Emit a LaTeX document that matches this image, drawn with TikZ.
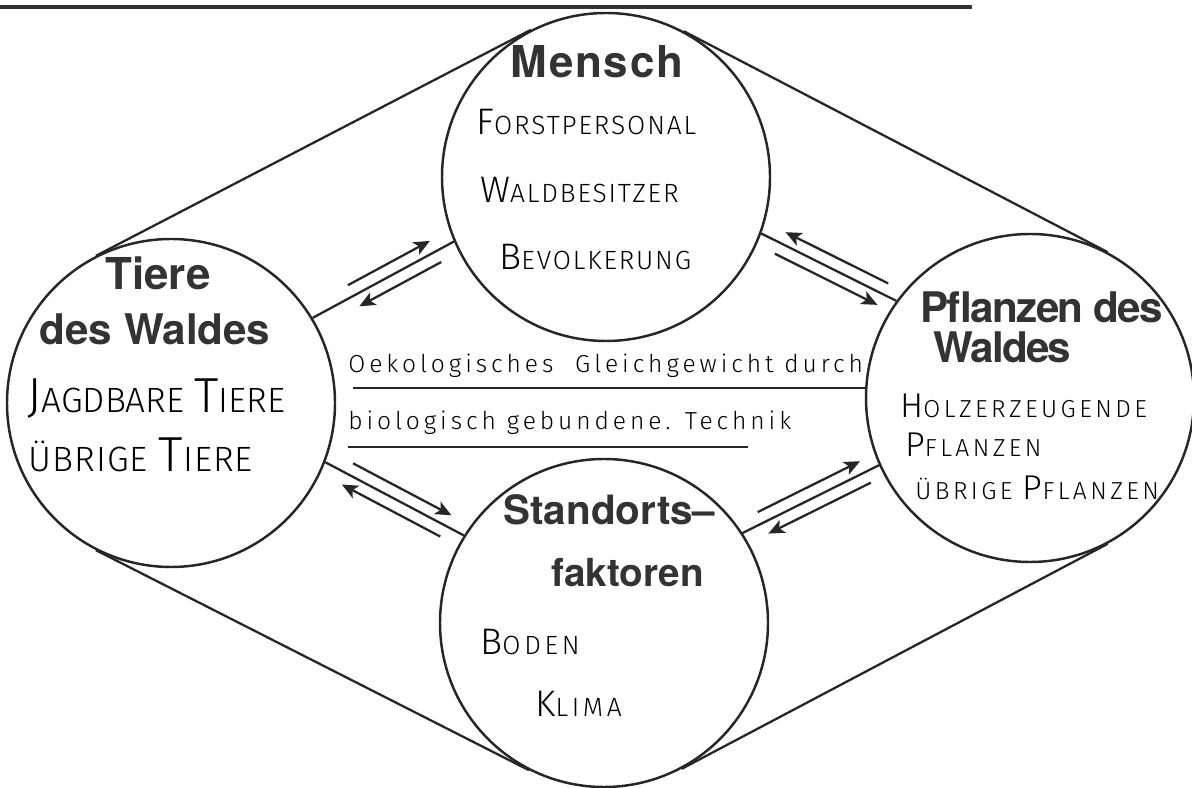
\documentclass[tikz,border=0pt]{standalone}
\usepackage{graphicx}
\usepackage{fontspec}
\setmainfont{TeX Gyre Heros}
\newfontfamily\handfont{Fira Sans Light}
\usetikzlibrary{arrows.meta,calc}

% bigger first letter of a hand lettered word
\newcommand{\Ini}[1]{\scalebox{1.4}{#1}}

\begin{document}
\begin{tikzpicture}[
    circ/.style={circle, draw=black!85, line width=1.4pt, minimum size=6.56cm, inner sep=0pt},
    link/.style={line width=1.3pt, black!85},
    arr/.style={-{Stealth[length=3.2mm, width=2.8mm, inset=0.8mm]}, line width=1.3pt, black!85},
    head/.style={font=\bfseries\fontsize{24}{26}\selectfont, text=black!80, inner sep=0pt},
    item/.style={font=\handfont\fontsize{15}{17}\selectfont\addfontfeature{LetterSpace=7}, text=black, inner sep=0pt, anchor=base west},
    hand/.style={font=\handfont\fontsize{14}{16}\selectfont\addfontfeature{LetterSpace=16}, text=black, inner sep=0pt, anchor=base west}
]
    \useasboundingbox (0,0) rectangle (23.84,15.76);

    % rule at the top
    \coordinate (rule-l) at (0,15.62);
    \coordinate (rule-r) at (19.44,15.62);
    \draw[line width=1.8pt, black!80] (rule-l) -- (rule-r);

    \node[circ] (M) at (12.12,12.22) {};
    \node[circ] (T) at (3.42, 7.70)  {};
    \node[circ] (P) at (20.60, 7.80) {};
    \node[circ] (S) at (12.08, 3.30) {};

    % outer frame, tangent to the circles
    \draw[link] (T.117.5) -- (M.117.5);
    \draw[link] (M.62.5)  -- (P.62.5);
    \draw[link] (P.-62.2) -- (S.-62.2);
    \draw[link] (S.-117)  -- (T.-117);

    % links and arrows
    \draw[link] (T.31) -- (M.203) coordinate[pos=0.29] (tm1) coordinate[pos=0.87] (tm2);
    \draw[arr] ($(tm1)!2.4mm!90:(tm2)$) -- ($(tm2)!2.4mm!-90:(tm1)$);
    \draw[arr] ($(tm2)!2.4mm!90:(tm1)$) -- ($(tm1)!2.4mm!-90:(tm2)$);

    \draw[link] (M.-20) -- (P.144) coordinate[pos=0.14] (mp1) coordinate[pos=0.90] (mp2);
    \draw[arr] ($(mp2)!2.4mm!-90:(mp1)$) -- ($(mp1)!2.4mm!90:(mp2)$);
    \draw[arr] ($(mp1)!2.4mm!-90:(mp2)$) -- ($(mp2)!2.4mm!90:(mp1)$);

    \draw[link] (S.33) -- (P.204) coordinate[pos=0.15] (sp1) coordinate[pos=0.90] (sp2);
    \draw[arr] ($(sp1)!2.4mm!90:(sp2)$) -- ($(sp2)!2.4mm!-90:(sp1)$);
    \draw[arr] ($(sp2)!2.4mm!90:(sp1)$) -- ($(sp1)!2.4mm!-90:(sp2)$);

    \draw[link] (T.-21) -- (S.148) coordinate[pos=0.16] (ts1) coordinate[pos=0.87] (ts2);
    \draw[arr] ($(ts1)!2.4mm!90:(ts2)$) -- ($(ts2)!2.4mm!-90:(ts1)$);
    \draw[arr] ($(ts2)!2.4mm!90:(ts1)$) -- ($(ts1)!2.4mm!-90:(ts2)$);

    % Mensch
    \node[head, anchor=base, font=\bfseries\fontsize{25}{27}\selectfont\addfontfeature{LetterSpace=4}] (m-head) at (11.94,14.20) {Mensch};
    \node[item] (m-forst) at (9.52,13.06) {\Ini{F}ORSTPERSONAL};
    \node[item] (m-wald)  at (9.60,11.70) {\Ini{W}ALDBESITZER};
    \node[item] (m-bev)   at (9.98,10.36) {\Ini{B}EVOLKERUNG};

    % Tiere
    \node[head, anchor=base, font=\bfseries\fontsize{25}{27}\selectfont] (t-head1) at (3.16,9.96) {Tiere};
    \node[head, anchor=base] (t-head2) at (3.10,8.86) {des Waldes};
    \node[item, font=\handfont\fontsize{20}{22}\selectfont] (t-jagd) at (0.54,7.50) {\Ini{J}AGDBARE \Ini{T}IERE};
    \node[item, font=\handfont\fontsize{20}{22}\selectfont\addfontfeature{LetterSpace=3}] (t-rest) at (0.56,6.32) {ÜBRIGE \Ini{T}IERE};

    % Pflanzen
    \node[head, anchor=base west] (p-head1) at (18.40,9.30) {\addfontfeature{LetterSpace=-4}Pflanzen des};
    \node[head, anchor=base west] (p-head2) at (18.66,8.50) {\addfontfeature{LetterSpace=-4}Waldes};
    \node[item, font=\handfont\fontsize{14}{16}\selectfont\addfontfeature{LetterSpace=14}] (p-holz) at (18.00,7.40) {\Ini{H}OLZERZEUGENDE};
    \node[item, font=\handfont\fontsize{14}{16}\selectfont\addfontfeature{LetterSpace=14}] (p-pfl)  at (18.10,6.62) {\Ini{P}FLANZEN};
    \node[item, font=\handfont\fontsize{14}{16}\selectfont\addfontfeature{LetterSpace=14}] (p-rest) at (18.30,5.76) {ÜBRIGE \Ini{P}FLANZEN};

    % Standortsfaktoren
    \node[head, anchor=base west, font=\bfseries\fontsize{23}{25}\selectfont] (s-head1) at (10.06,5.26) {Standorts--};
    \node[head, anchor=base west, font=\bfseries\fontsize{22}{24}\selectfont] (s-head2) at (11.02,4.02) {faktoren};
    \node[item, font=\handfont\fontsize{15}{17}\selectfont\addfontfeature{LetterSpace=14}] (s-boden) at (9.60,2.66) {\Ini{B}ODEN};
    \node[item, font=\handfont\fontsize{15}{17}\selectfont\addfontfeature{LetterSpace=14}] (s-klima) at (10.70,1.42) {\Ini{K}LIMA};

    % text in the middle
    \node[hand] (eco1) at (6.96,8.30) {Oekologisches \ Gleichgewicht durch};
    \node[hand] (eco2) at (6.96,7.16) {biologisch gebundene. Technik};
    \draw[link] ($(eco1.base west)+(0.10,-0.30)$) -- ++(10.26,0);
    \draw[link] ($(eco2.base west)+(0,-0.34)$) -- ++(8.00,0);
\end{tikzpicture}
\end{document}
